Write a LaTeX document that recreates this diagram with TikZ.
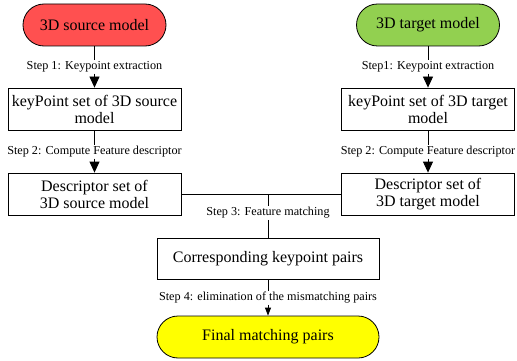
\documentclass[tikz,border=0pt]{standalone}
\usepackage{fontspec}
\setmainfont{Liberation Serif}
\usetikzlibrary{arrows.meta}
\definecolor{srcred}{HTML}{FF5050}
\definecolor{tgtgreen}{HTML}{92D050}
\definecolor{endyellow}{HTML}{FFFF00}
\tikzset{
  box/.style={draw,line width=0.8pt,minimum width=173pt,minimum height=42pt,
    align=center,inner sep=2pt,font=\fontsize{16}{17}\selectfont},
  pill/.style={box,rounded corners=21pt,minimum width=143pt},
  steplabel/.style={inner sep=1pt,font=\fontsize{12.2}{14}\selectfont},
  link/.style={line width=0.8pt},
  tip/.style={link,-{Triangle[width=10pt,length=11pt]}}
}
\begin{document}
\begin{tikzpicture}[x=1pt,y=-1pt]
\useasboundingbox (0,0) rectangle (517,361);
% left column
\node[pill,fill=srcred] (src) at (94.5,25) {3D source model};
\node[steplabel] (s1l) at (94.5,67) {Step 1: Keypoint extraction};
\node[box] (kpsrc) at (94.5,109) {keyPoint set of 3D source\\model};
\node[steplabel] (s2l) at (94.5,152) {Step 2: Compute Feature descriptor};
\node[box] (dsrc) at (94.5,194) {Descriptor set of\\3D source model};
% right column
\node[pill,fill=tgtgreen] (tgt) at (428,25) {3D target model};
\node[steplabel] (s1r) at (428,67) {Step1: Keypoint extraction};
\node[box] (kptgt) at (428,109) {keyPoint set of 3D target\\model};
\node[steplabel] (s2r) at (428,152) {Step 2: Compute Feature descriptor};
\node[box] (dtgt) at (428,194) {Descriptor set of\\3D target model};
% matching
\coordinate (join) at (268,194);
\node[steplabel] (s3) at (268,213) {Step 3: Feature matching};
\node[box,minimum width=222pt,minimum height=41pt] (pairs) at (268,258.5) {Corresponding keypoint pairs};
\node[steplabel] (s4) at (268,298) {Step 4: elimination of the mismatching pairs};
\node[pill,fill=endyellow,minimum width=222pt] (final) at (268,337) {Final matching pairs};
% connectors
\draw[link] (src) -- (s1l);
\draw[tip] (s1l) -- (kpsrc);
\draw[link] (kpsrc) -- (s2l);
\draw[tip] (s2l) -- (dsrc);
\draw[link] (tgt) -- (s1r);
\draw[tip] (s1r) -- (kptgt);
\draw[link] (kptgt) -- (s2r);
\draw[tip] (s2r) -- (dtgt);
\draw[link] (dsrc) -- (dtgt);
\draw[link] (join) -- (s3);
\draw[link] (s3) -- (pairs);
\draw[link] (pairs) -- (s4);
\draw[link,-{Triangle[width=6pt,length=8pt]}] (s4) -- (final);
\end{tikzpicture}
\end{document}
